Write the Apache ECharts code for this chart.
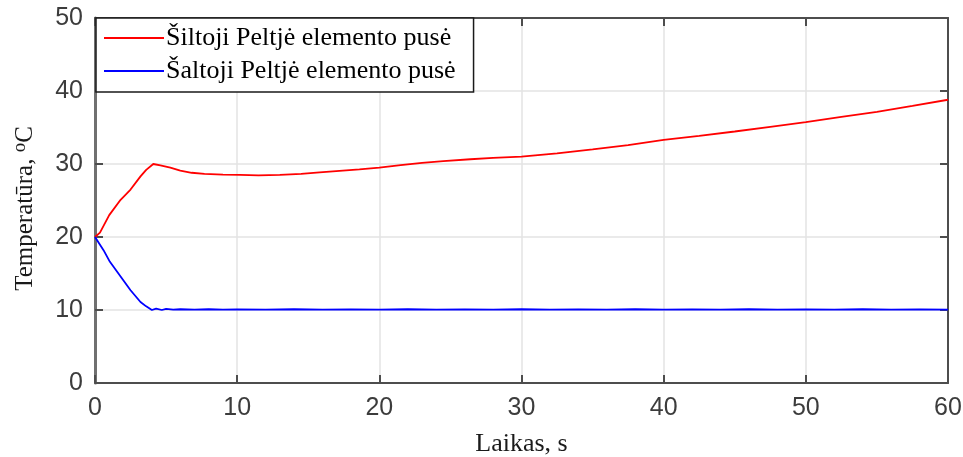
<!DOCTYPE html>
<html>
<head>
<meta charset="utf-8">
<script src="https://cdn.jsdelivr.net/npm/echarts@6/dist/echarts.min.js"></script>
<style>
  html, body { margin: 0; padding: 0; background: #ffffff; }
  #chart { width: 963px; height: 457px; }
</style>
</head>
<body>
<div id="chart"></div>
<script>
// Warm side of the Peltier element: time (s) and temperature (°C)
const warmTime = [0, 0.35, 1, 1.8, 2.5, 3.2, 3.6, 4.1, 4.6, 5.3, 6, 6.8, 7.7, 9, 10.2, 11.5, 13, 14.5,
  15.8, 17.2, 18.6, 20, 21.5, 23, 24.5, 26.4, 28, 30, 32.5, 35, 37.5, 40, 42.5, 45, 47.5,
  50, 52.5, 55, 57.5, 60];
const warmTemp = [20, 20.6, 23.0, 25.1, 26.5, 28.3, 29.2, 30.0, 29.8, 29.5, 29.1, 28.8, 28.65, 28.55, 28.5, 28.45, 28.5, 28.65,
  28.85, 29.05, 29.25, 29.5, 29.85, 30.15, 30.4, 30.65, 30.85, 31.0, 31.45, 32.0, 32.6, 33.3, 33.85, 34.45, 35.1,
  35.75, 36.45, 37.15, 37.95, 38.8];

// Cold side of the Peltier element: time (s) and temperature (°C)
const coldTime = [0, 0.6, 1.05, 1.8, 2.5, 3.2, 3.6, 4.0, 4.3, 4.7, 5.0, 5.5, 6, 7, 8, 9, 10, 12, 14, 16, 18,
  20, 22, 24, 26, 28, 30, 32, 34, 36, 38, 40, 42, 44, 46, 48, 50, 52, 54, 56, 58, 60];
const coldTemp = [20, 18.2, 16.6, 14.6, 12.7, 11.1, 10.5, 10.0, 10.2, 10.0, 10.15, 10.05, 10.1, 10.05, 10.1, 10.05, 10.08, 10.04, 10.1, 10.05, 10.08,
  10.04, 10.1, 10.05, 10.08, 10.04, 10.1, 10.05, 10.08, 10.04, 10.1, 10.05, 10.08, 10.04, 10.1, 10.05, 10.08, 10.04, 10.1, 10.05, 10.08, 10.05];

const xTicks = { min: 0, max: 60, interval: 10 };
const yTicks = { min: 0, max: 50, interval: 10 };

const warmName = 'Šiltoji Peltjė elemento pusė';
const coldName = 'Šaltoji Peltjė elemento pusė';

const pairs = (xs, ys) => xs.map((x, i) => [x, ys[i]]);

const axisGray = '#4d4d4d';
const labelStyle = { fontFamily: 'Liberation Sans', fontSize: 25, color: '#3c3c3c' };
const serif = 'Liberation Serif';

const chart = echarts.init(document.getElementById('chart'), null, { renderer: 'canvas' });

// Top and right axes close the plot box and carry inward ticks only
const frameAxis = (pos) => ({
  axisLine: { show: true, onZero: false, lineStyle: { color: axisGray, width: 2 } },
  axisTick: { show: true, inside: true, length: 8, lineStyle: { color: axisGray, width: 2 } },
  axisLabel: { show: false },
  splitLine: { show: false },
  position: pos
});

chart.setOption({
  animation: false,
  backgroundColor: '#ffffff',
  grid: { left: 95, right: 15, top: 18, bottom: 74, containLabel: false, outerBoundsMode: 'none' },
  legend: {
    left: 96, top: 18, orient: 'vertical',
    backgroundColor: '#ffffff',
    borderColor: '#1a1a1a', borderWidth: 1.5,
    padding: [6, 18, 7, 7],
    itemWidth: 60, itemHeight: 14, itemGap: 5,
    itemStyle: { opacity: 0, color: 'rgba(0,0,0,0)', borderWidth: 0 },
    textStyle: { fontFamily: serif, fontSize: 26, color: '#000000', lineHeight: 28, padding: [0, 0, 0, -3] },
    data: [warmName, coldName]
  },
  xAxis: [
    {
      type: 'value', min: xTicks.min, max: xTicks.max, interval: xTicks.interval,
      position: 'bottom',
      name: 'Laikas, s', nameLocation: 'middle', nameGap: 48,
      nameTextStyle: { fontFamily: serif, fontSize: 26, color: '#1a1a1a' },
      axisLine: { show: true, onZero: false, lineStyle: { color: axisGray, width: 2 } },
      axisTick: { show: true, inside: true, length: 8, lineStyle: { color: axisGray, width: 2 } },
      axisLabel: Object.assign({ margin: 13 }, labelStyle),
      splitLine: { show: true, lineStyle: { color: '#e3e3e3', width: 1.5 } }
    },
    Object.assign({ type: 'value', min: xTicks.min, max: xTicks.max, interval: xTicks.interval }, frameAxis('top'))
  ],
  yAxis: [
    {
      type: 'value', min: yTicks.min, max: yTicks.max, interval: yTicks.interval,
      position: 'left',
      name: 'Temperatūra, {sup|o}C', nameLocation: 'middle', nameGap: 57,
      nameTextStyle: {
        fontFamily: serif, fontSize: 25, color: '#1a1a1a', padding: [0, 16, 0, 0],
        rich: { sup: { fontFamily: serif, fontSize: 19, color: '#1a1a1a', lineHeight: 18, padding: [0, 0, 10, 0] } }
      },
      axisLine: { show: true, onZero: false, lineStyle: { color: '#707070', width: 3 } },
      axisTick: { show: true, inside: true, length: 8, lineStyle: { color: axisGray, width: 2 } },
      axisLabel: Object.assign({ margin: 12 }, labelStyle),
      splitLine: { show: true, lineStyle: { color: '#e3e3e3', width: 1.5 } }
    },
    Object.assign({ type: 'value', min: yTicks.min, max: yTicks.max, interval: yTicks.interval }, frameAxis('right'))
  ],
  series: [
    {
      name: warmName, type: 'line', xAxisIndex: 0, yAxisIndex: 0,
      data: pairs(warmTime, warmTemp), symbol: 'none', smooth: false,
      lineStyle: { color: '#ff0000', width: 1.8 }, itemStyle: { color: '#ff0000' }, z: 3
    },
    {
      name: coldName, type: 'line', xAxisIndex: 0, yAxisIndex: 0,
      data: pairs(coldTime, coldTemp), symbol: 'none', smooth: false,
      lineStyle: { color: '#0000ff', width: 1.8 }, itemStyle: { color: '#0000ff' }, z: 3
    }
  ]
});
</script>
</body>
</html>
